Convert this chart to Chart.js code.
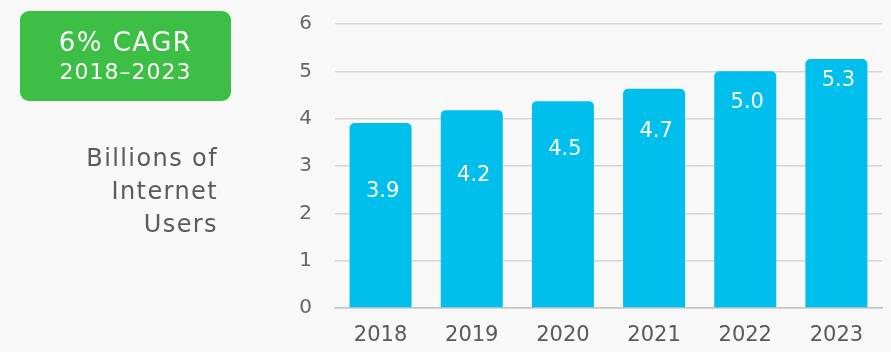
<!DOCTYPE html>
<html>
<head>
<meta charset="utf-8">
<script src="https://cdn.jsdelivr.net/npm/chart.js@4"></script>
<style>
  html, body { margin: 0; padding: 0; background: #f8f8f8; }
  #wrap { position: relative; width: 891px; height: 352px; overflow: hidden; font-family: "DejaVu Sans", sans-serif; }
  #chart-canvas { position: absolute; left: 0; top: 0; }
  #cagr {
    position: absolute; left: 20px; top: 11px; width: 211px; height: 90px;
    background: #3dbe45; border-radius: 9px; color: #fff; text-align: center;
  }
  #cagr .big { position: absolute; left: 0; right: 0; top: 16px; font-size: 26px; letter-spacing: 1.5px; line-height: 30px; }
  #cagr .small { position: absolute; left: 0; right: 0; top: 48px; font-size: 22px; letter-spacing: 1px; line-height: 26px; }
  #units {
    position: absolute; right: 673px; top: 142px; text-align: right;
    font-size: 24px; line-height: 33px; color: #5a5a5a; letter-spacing: 1.4px;
  }
</style>
</head>
<body>
<div id="wrap">
  <canvas id="chart-canvas" width="891" height="352"></canvas>
  <div id="cagr"><div class="big">6% CAGR</div><div class="small">2018–2023</div></div>
  <div id="units">Billions of<br>Internet<br>Users</div>
</div>
<script>
// years on the x axis
const years = ['2018', '2019', '2020', '2021', '2022', '2023'];
// bar heights as drawn (billions of users)
const users = [3.91, 4.18, 4.37, 4.63, 5.0, 5.26];
// numbers printed inside the bars
const valueLabels = ['3.9', '4.2', '4.5', '4.7', '5.0', '5.3'];

const fontFamily = '"DejaVu Sans", sans-serif';

// writes the value text inside each bar, some px below its top
const barText = {
  id: 'barText',
  afterDatasetsDraw(chart, args, opts) {
    const ctx = chart.ctx;
    const bars = chart.getDatasetMeta(0).data;
    ctx.save();
    ctx.fillStyle = '#ffffff';
    ctx.font = '21px ' + fontFamily;
    ctx.textAlign = 'center';
    ctx.textBaseline = 'middle';
    bars.forEach((bar, i) => {
      ctx.fillText(valueLabels[i], bar.x + 2, bar.y + opts.offsets[i]);
    });
    ctx.restore();
  }
};

new Chart(document.getElementById('chart-canvas'), {
  type: 'bar',
  data: {
    labels: years,
    datasets: [{
      data: users,
      backgroundColor: '#00bfec',
      borderRadius: { topLeft: 5, topRight: 5 },
      borderSkipped: 'bottom',
      barPercentage: 0.68,
      categoryPercentage: 1.0
    }]
  },
  options: {
    responsive: false,
    animation: false,
    layout: { padding: { left: 285, top: 24, right: 9, bottom: 0 } },
    plugins: {
      legend: { display: false },
      tooltip: { enabled: false },
      barText: { offsets: [69, 65, 48, 43, 31, 22] }
    },
    scales: {
      x: {
        grid: { display: false, drawTicks: false },
        border: { display: true, color: '#c4c4c4', width: 1.5 },
        ticks: { color: '#595959', font: { family: fontFamily, size: 21 }, padding: 15 },
        afterFit(scale) { scale.height = 44; }
      },
      y: {
        min: 0, max: 6,
        grid: { color: '#d4d4d4', lineWidth: 1.5, drawTicks: false },
        border: { display: false },
        ticks: { stepSize: 1, color: '#666', font: { family: fontFamily, size: 20 }, padding: 23 },
        afterFit(scale) {
          scale.width = 50;
          // keep the tick padding from pushing the plot down
          scale.paddingTop = 0;
          scale.paddingBottom = 0;
        }
      }
    }
  },
  plugins: [barText]
});
</script>
</body>
</html>
